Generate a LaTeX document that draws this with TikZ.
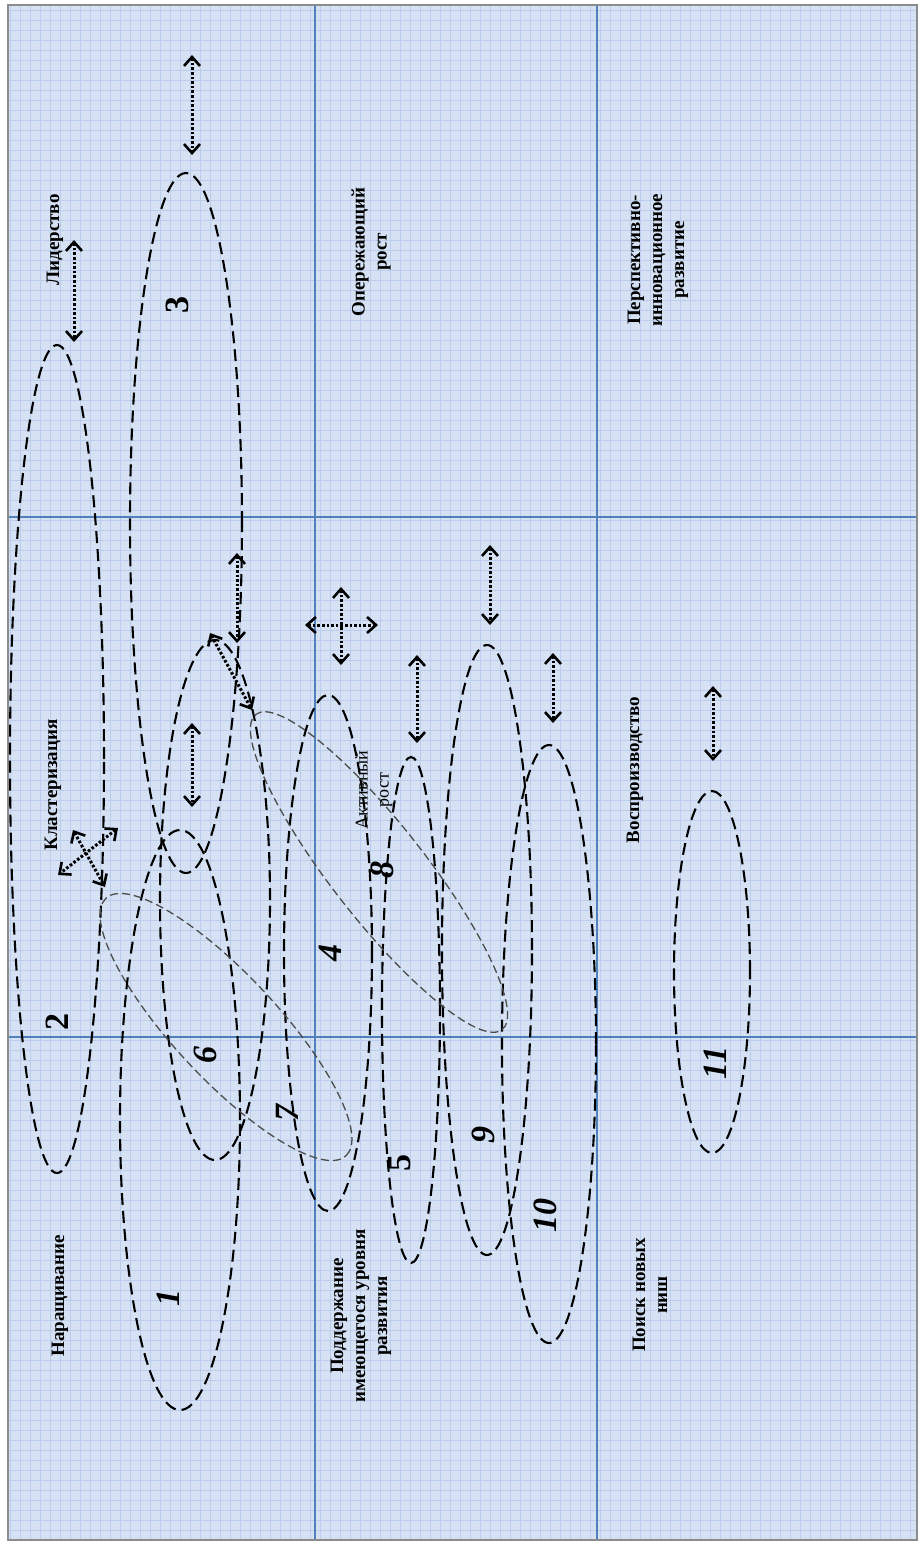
\documentclass[tikz,border=0pt]{standalone}
\usepackage{fontspec}
\setmainfont{Liberation Serif}
\usetikzlibrary{arrows.meta}
\definecolor{bgblue}{RGB}{214,226,244}
\definecolor{gridblue}{RGB}{186,205,236}
\definecolor{lineblue}{RGB}{79,129,189}
\definecolor{framegray}{RGB}{140,140,140}
\begin{document}
\begin{tikzpicture}[x=1pt,y=-1pt,
  ell/.style={draw=black, line width=2.1pt, dash pattern=on 12pt off 6pt},
  thinell/.style={draw=black!70, line width=1.3pt, dash pattern=on 8pt off 4pt},
  dar/.style={line width=3pt, dash pattern=on 2.6pt off 2pt,
    {Straight Barb[length=9pt,width=16pt,line width=2.6pt]}-{Straight Barb[length=9pt,width=16pt,line width=2.6pt]}},
  lbl/.style={rotate=90, font=\bfseries\fontsize{19}{22}\selectfont, align=center, inner sep=0pt},
  num/.style={rotate=90, font=\bfseries\itshape\fontsize{34}{34}\selectfont, inner sep=0pt},
  numu/.style={rotate=90, font=\bfseries\fontsize{34}{34}\selectfont, inner sep=0pt},
  divider/.style={draw=lineblue, line width=1.4pt}
]
\useasboundingbox (0,0) rectangle (919,1543);
% background graph paper
\fill[bgblue] (8,5) rectangle (917,1540);
\draw[gridblue, line width=0.4pt, step=10pt] (8,5) grid (917,1540);
% dividers
\coordinate (v1t) at (315,5);  \coordinate (v1b) at (315,1540);
\coordinate (v2t) at (597,5);  \coordinate (v2b) at (597,1540);
\coordinate (h1l) at (8,517);  \coordinate (h1r) at (917,517);
\coordinate (h2l) at (8,1037); \coordinate (h2r) at (917,1037);
\draw[divider] (v1t) -- (v1b);
\draw[divider] (v2t) -- (v2b);
\draw[divider] (h1l) -- (h1r);
\draw[divider] (h2l) -- (h2r);
% frame
\draw[framegray, line width=2pt] (8,5) rectangle (917,1540);

% ellipses
\draw[ell] (180,1120) ellipse [x radius=60pt, y radius=290pt];
\draw[ell] (57,759) ellipse [x radius=47pt, y radius=414pt];
\draw[ell] (186,523) ellipse [x radius=56pt, y radius=350pt];
\draw[ell] (328,953) ellipse [x radius=44pt, y radius=258pt];
\draw[ell] (411,1010) ellipse [x radius=29pt, y radius=253pt];
\draw[ell] (215,900) ellipse [x radius=55pt, y radius=260pt];
\draw[ell] (487,950) ellipse [x radius=45pt, y radius=305pt];
\draw[ell] (549,1044) ellipse [x radius=47pt, y radius=299pt];
\draw[ell] (712,972) ellipse [x radius=38pt, y radius=181pt];
\begin{scope}[shift={(226,1027)}, rotate=-47]
  \draw[thinell] (0,0) ellipse [x radius=176pt, y radius=52pt];
\end{scope}
\begin{scope}[shift={(379,872)}, rotate=-52]
  \draw[thinell] (0,0) ellipse [x radius=200pt, y radius=47pt];
\end{scope}

% arrows
\coordinate (a1s) at (192,55);  \coordinate (a1e) at (192,155);
\coordinate (a2s) at (74,240);  \coordinate (a2e) at (74,342);
\coordinate (a3s) at (73,830);  \coordinate (a3e) at (105,887);
\coordinate (a4s) at (118,828); \coordinate (a4e) at (58,875);
\coordinate (a5s) at (192,723); \coordinate (a5e) at (192,807);
\coordinate (a6s) at (210,633); \coordinate (a6e) at (252,710);
\coordinate (a7s) at (237,553); \coordinate (a7e) at (237,643);
\coordinate (a8s) at (305,625); \coordinate (a8e) at (378,625);
\coordinate (a9s) at (341,587); \coordinate (a9e) at (341,665);
\coordinate (b1s) at (417,655); \coordinate (b1e) at (417,743);
\coordinate (b2s) at (490,545); \coordinate (b2e) at (490,625);
\coordinate (b3s) at (553,653); \coordinate (b3e) at (553,723);
\coordinate (b4s) at (713,686); \coordinate (b4e) at (713,761);
\foreach \p in {a1,a2,a3,a4,a5,a6,a7,a8,a9,b1,b2,b3,b4}
  \draw[dar] (\p s) -- (\p e);

% section labels
\node[lbl] (lid) at (55,240) {Лидерство};
\node[lbl] (klas) at (53,785) {Кластеризация};
\node[lbl] (nar) at (60,1296) {Наращивание};
\node[lbl] (oper) at (371,252) {Опережающий\\рост};
\node[lbl] (persp) at (658,260) {Перспективно-\\инновационное\\развитие};
\node[lbl, font=\fontsize{18}{21}\selectfont] (akt) at (374,790) {Активный\\рост};
\node[lbl] (podd) at (361,1316) {Поддержание\\имеющегося уровня\\развития};
\node[lbl] (vosp) at (635,770) {Воспроизводство};
\node[lbl] (poisk) at (650,1295) {Поиск новых\\ниш};

% ellipse numbers
\node[num] (n1) at (168,1298) {1};
\node[numu] (n2) at (57,1022) {2};
\node[numu] (n3) at (177,305) {3};
\node[num] (n4) at (330,953) {4};
\node[numu] (n5) at (400,1163) {5};
\node[num] (n6) at (205,1055) {6};
\node[num] (n7) at (287,1113) {7};
\node[num] (n8) at (382,870) {8};
\node[num] (n9) at (483,1135) {9};
\node[num] (n10) at (545,1215) {10};
\node[num] (n11) at (715,1063) {11};
\end{tikzpicture}
\end{document}
